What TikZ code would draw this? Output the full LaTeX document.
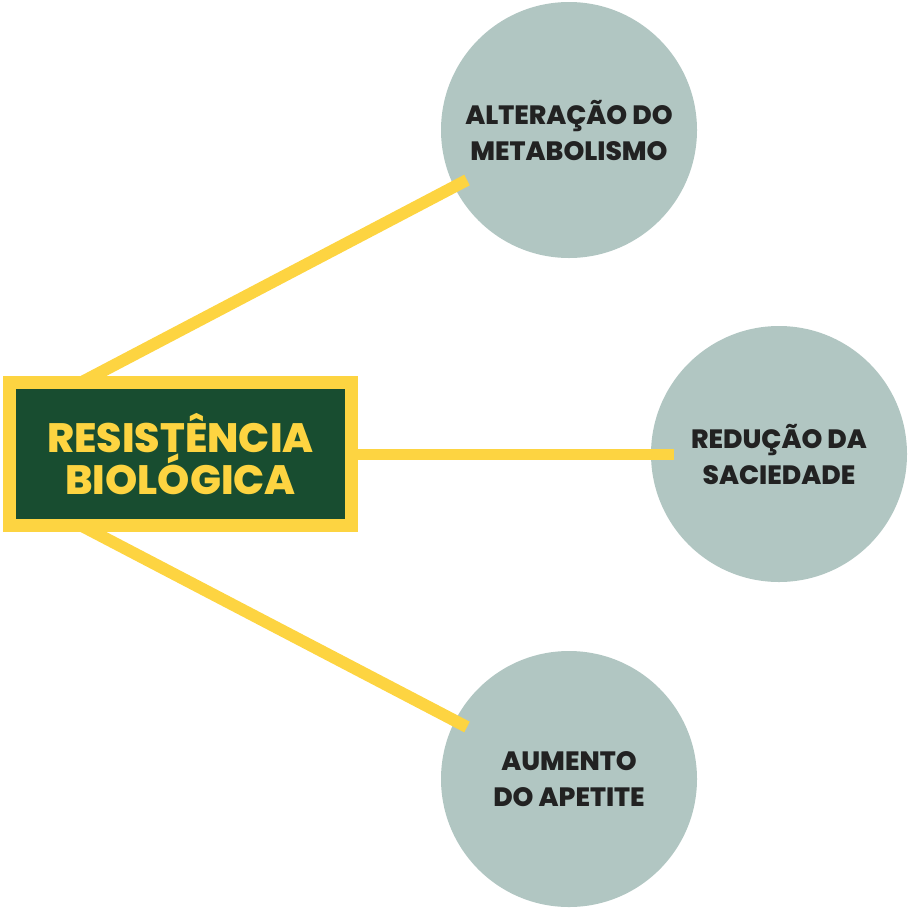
\documentclass[tikz,border=0pt]{standalone}
\usepackage{fontspec}
\setmainfont{Poppins}[BoldFont={* ExtraBold}]
\definecolor{ylw}{HTML}{FDD441}
\definecolor{grn}{HTML}{184D30}
\definecolor{circ}{HTML}{B1C6C2}
\definecolor{txt}{HTML}{222222}
\begin{document}
\begin{tikzpicture}[x=1pt,y=-1pt,
  bubble/.style={circle,fill=circ,minimum size=256pt,inner sep=0pt,align=center,text=txt,font=\fontsize{26.5}{36}\selectfont\bfseries},
  link/.style={draw=ylw,line width=12pt},
  titlebox/.style={draw=ylw,fill=grn,line width=13pt,minimum width=342pt,minimum height=143pt,inner sep=0pt,align=center,text=ylw,font=\fontsize{41}{40}\selectfont\bfseries}]
\useasboundingbox (0,0) rectangle (909,908);
\node[bubble] (c1) at (569,130) {ALTERAÇÃO DO\\METABOLISMO};
\node[bubble] (c2) at (779,454) {REDUÇÃO DA\\SACIEDADE};
\node[bubble] (c3) at (569,779) {AUMENTO\\DO APETITE};
\coordinate (e1) at (467,180);
\coordinate (e2) at (674,454);
\coordinate (e3) at (467,727);
\coordinate (s1) at (82,382);
\coordinate (s3) at (82,526);
\coordinate (s2) at (340,454);
\draw[link] (s1) -- (e1);
\draw[link] (s3) -- (e3);
\draw[link,line width=11pt] (s2) -- (e2);
\node[titlebox] (t) at (180.5,454) {RESISTÊNCIA\\BIOLÓGICA};
\end{tikzpicture}
\end{document}
